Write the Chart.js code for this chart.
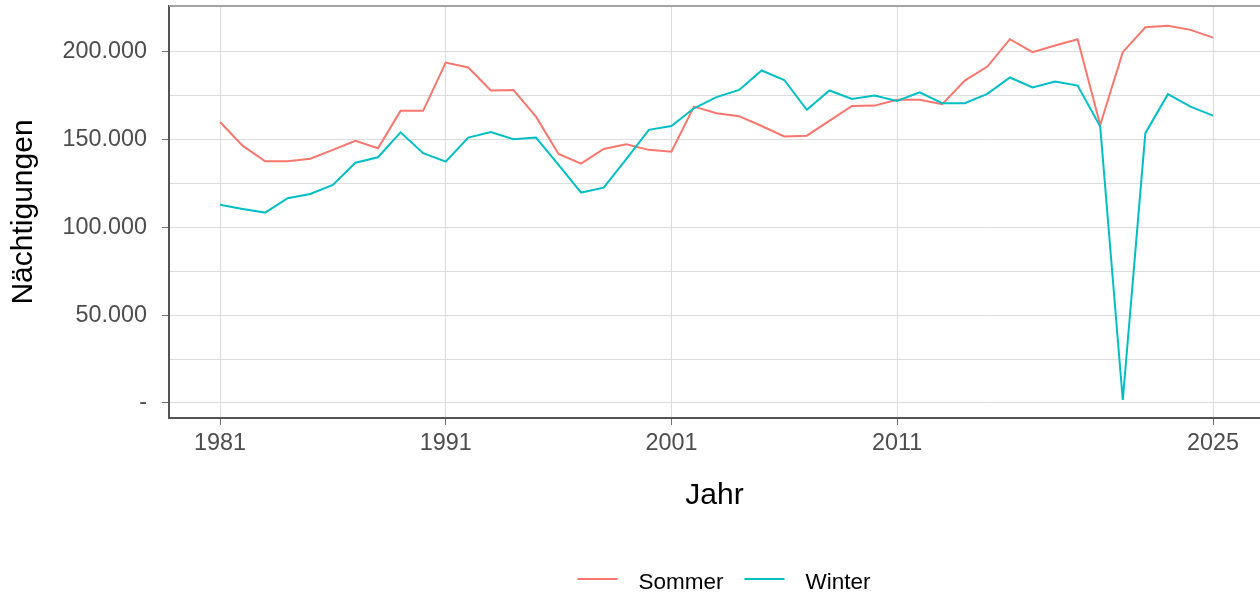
<!DOCTYPE html>
<html><head><meta charset="utf-8">
<script src="https://cdn.jsdelivr.net/npm/chart.js@4/dist/chart.umd.min.js"></script>
<style>html,body{margin:0;padding:0;background:#fff;}#wrap{width:1260px;height:594px;position:relative;}</style>
</head><body><div id="wrap"><canvas id="c" width="1260" height="594"></canvas></div>
<script>
const years = [1981,1982,1983,1984,1985,1986,1987,1988,1989,1990,1991,1992,1993,1994,1995,1996,1997,1998,1999,2000,2001,2002,2003,2004,2005,2006,2007,2008,2009,2010,2011,2012,2013,2014,2015,2016,2017,2018,2019,2020,2021,2022,2023,2024,2025];
const sommer = [160000,146500,137600,137600,139100,144100,149200,145000,166300,166300,193800,191000,177900,178200,163000,141800,136300,144600,147300,144100,143100,168700,165000,163300,157700,151700,152200,160600,169100,169300,172600,172600,170100,183500,191500,207100,199700,203500,207100,158300,199700,213900,214700,212400,208000];
const winter = [112800,110500,108400,116600,119000,124100,136800,139900,154100,142200,137400,151100,154300,150200,151100,135500,119800,122600,138800,155500,157700,167800,174100,178200,189300,183900,166900,177900,173100,175000,172000,176900,170700,170700,176000,185300,179600,183000,180700,157400,1700,153600,175800,168700,163600];
const seriesNames = ['Sommer','Winter'];
const seriesColors = ['#F8766D','#00BFC4'];
const xTickValues = [1981,1991,2001,2011,2025];
const yTickValues = [0,50000,100000,150000,200000];
const yTickLabels = ['-','50.000','100.000','150.000','200.000'];
const yMinorValues = [25000,75000,125000,175000];

Chart.defaults.font.family = '"Liberation Sans", Arial, sans-serif';

const topBorder = {
  id: 'topBorder',
  beforeDatasetsDraw(chart) {
    const {ctx, chartArea: a} = chart;
    ctx.save();
    ctx.strokeStyle = '#a3a3a3';
    ctx.lineWidth = 2;
    ctx.beginPath();
    ctx.moveTo(a.left, a.top);
    ctx.lineTo(a.right, a.top);
    ctx.stroke();
    ctx.restore();
  }
};

const bottomLegend = {
  id: 'bottomLegend',
  afterDraw(chart) {
    const ctx = chart.ctx;
    const ds = chart.data.datasets.slice().sort((a, b) => a.legendIndex - b.legendIndex);
    ctx.save();
    ctx.font = '22.5px "Liberation Sans", Arial, sans-serif';
    const lineW = 40, gap = 21;
    const widths = ds.map(d => ctx.measureText(d.label).width);
    let total = 0;
    widths.forEach((w, i) => { total += lineW + gap + w + (i > 0 ? gap : 0); });
    let x = 724 - total / 2;
    const yLine = 579, yText = 589;
    ds.forEach((d, i) => {
      ctx.strokeStyle = d.borderColor;
      ctx.lineWidth = 2;
      ctx.beginPath();
      ctx.moveTo(x, yLine);
      ctx.lineTo(x + lineW, yLine);
      ctx.stroke();
      x += lineW + gap;
      ctx.fillStyle = '#000';
      ctx.textBaseline = 'alphabetic';
      ctx.textAlign = 'left';
      ctx.fillText(d.label, x, yText);
      x += widths[i] + gap;
    });
    ctx.restore();
  }
};

new Chart(document.getElementById('c'), {
  type: 'line',
  data: {
    datasets: [
      { label: seriesNames[0], legendIndex: 0, order: 1, data: years.map((y, i) => ({x: y, y: sommer[i]})),
        borderColor: seriesColors[0], backgroundColor: seriesColors[0], borderWidth: 2, pointRadius: 0, tension: 0 },
      { label: seriesNames[1], legendIndex: 1, order: 0, data: years.map((y, i) => ({x: y, y: winter[i]})),
        borderColor: seriesColors[1], backgroundColor: seriesColors[1], borderWidth: 2, pointRadius: 0, tension: 0 }
    ]
  },
  options: {
    responsive: false,
    animation: false,
    layout: { padding: { left: 0, right: 0, top: 6, bottom: 0 } },
    plugins: { legend: { display: false }, tooltip: { enabled: false } },
    scales: {
      x: {
        type: 'linear',
        min: 1978.74,
        max: 2027.08,
        afterBuildTicks: s => { s.ticks = xTickValues.map(v => ({value: v})); },
        afterFit: s => { s.height = 176; s.paddingLeft = 0; s.paddingRight = 0; },
        ticks: { autoSkip: false, maxRotation: 0, color: '#4d4d4d', font: { size: 23.4 }, padding: 5,
                 callback: v => String(v) },
        grid: { color: '#dcdcdc', lineWidth: 1, tickLength: 7, tickColor: '#707070', drawTicks: true },
        border: { color: '#555555', width: 2 },
        title: { display: true, text: 'Jahr', color: '#000', font: { size: 30 }, padding: { top: 0, bottom: 80 } }
      },
      y: {
        type: 'linear',
        min: -8540,
        max: 226000,
        afterBuildTicks: s => { s.ticks = yTickValues.concat(yMinorValues).sort((a, b) => a - b).map(v => ({value: v})); },
        afterFit: s => { s.width = 169; s.paddingTop = 0; s.paddingBottom = 0; },
        ticks: { autoSkip: false, color: '#4d4d4d', font: { size: 23.4 }, padding: 15,
                 callback: v => { const i = yTickValues.indexOf(v); return i >= 0 ? yTickLabels[i] : ''; } },
        grid: { color: '#dcdcdc', lineWidth: 1, tickLength: 7, drawTicks: true,
                tickColor: c => (c.tick && yTickValues.includes(c.tick.value)) ? '#707070' : 'rgba(0,0,0,0)' },
        border: { color: '#555555', width: 2 },
        title: { display: true, text: 'Nächtigungen', color: '#000', font: { size: 30 }, padding: { top: 6, bottom: 0 } }
      }
    }
  },
  plugins: [topBorder, bottomLegend]
});
</script>
</body></html>
